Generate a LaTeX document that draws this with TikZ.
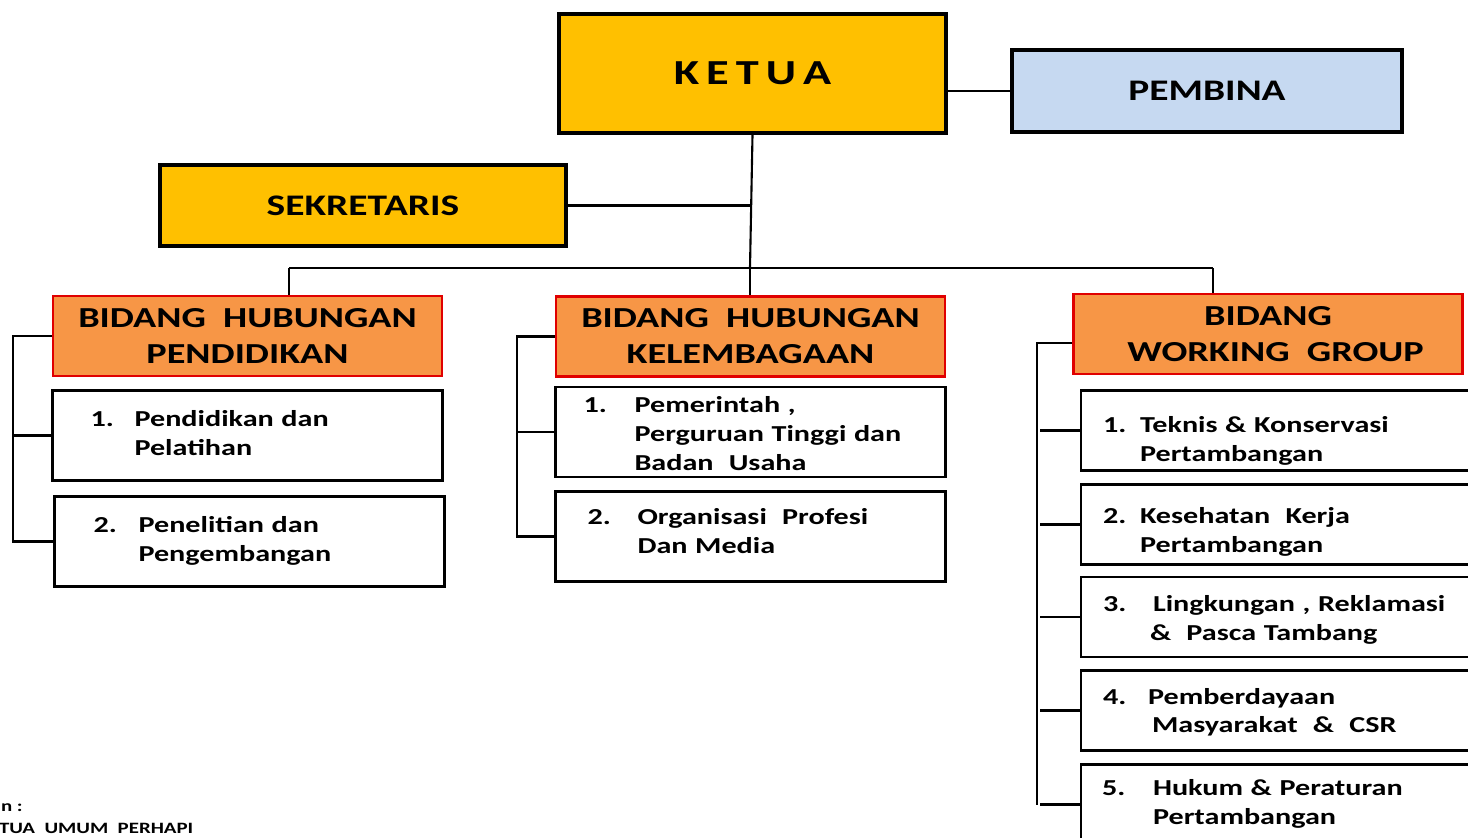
\documentclass[tikz,border=0pt]{standalone}
\usepackage{fontspec}
\setmainfont{Carlito}[FakeStretch=1.32]
\usetikzlibrary{positioning}
\definecolor{gold}{HTML}{FFC000}
\definecolor{paleblue}{HTML}{C6D9F1}
\definecolor{bidangfill}{HTML}{F79646}
\definecolor{bidangline}{HTML}{E00000}
% inset, number column, number, lines
\newcommand\entry[4]{\hspace*{#1}\begin{tabular}{@{}p{#2}@{}l@{}}#3 & #4\end{tabular}}
% move text down inside its box by half of #1
\newcommand\dropby[2]{\raisebox{0pt}[\height][\dimexpr\depth-#1\relax]{#2}}

\begin{document}
\begin{tikzpicture}[x=0.02cm, y=-0.02cm, line width=1.2pt, font=\bfseries,
    chief/.style={draw, line width=2.4pt, fill=gold, minimum width=7.74cm, minimum height=2.38cm,
      font=\bfseries\fontsize{20}{24}\selectfont},
    advisor/.style={draw, line width=1.9pt, fill=paleblue, minimum width=7.8cm, minimum height=1.64cm,
      font=\bfseries\fontsize{17}{20}\selectfont},
    secretary/.style={draw, line width=1.9pt, fill=gold, minimum width=8.12cm, minimum height=1.62cm,
      font=\bfseries\fontsize{17}{20}\selectfont},
    bidang/.style={draw=bidangline, line width=1.2pt, fill=bidangfill, minimum width=7.78cm, minimum height=1.6cm,
      align=center, font=\bfseries\fontsize{16.5}{20.5}\selectfont},
    unit/.style={draw, line width=1.6pt, minimum width=7.8cm, minimum height=1.8cm, inner xsep=0pt, inner ysep=0pt,
      text width=7.8cm, align=left, font=\bfseries\fontsize{13}{16.4}\selectfont},
    link/.style={draw, line width=1.6pt}
  ]
  \useasboundingbox (0,0) rectangle (1468,838);

  % top of the chart
  \node[chief] (ketua) at (752.5,73.5) {K\hspace{0.2em}E\hspace{0.2em}T\hspace{0.2em}U\hspace{0.2em}A};
  \node[advisor] (pembina) at (1207,91) {PEMBINA};
  \node[secretary] (sekretaris) at (363,205.5) {SEKRETARIS};

  % three fields
  \node[bidang] (bhp) at (247.5,336) {BIDANG\ \ HUBUNGAN\\PENDIDIKAN};
  \node[bidang] (bhk) at (750.5,336.5) {BIDANG\ \ HUBUNGAN\\KELEMBAGAAN};
  \node[bidang] (bwg) at (1268,334) {BIDANG\\\hspace*{0.3cm}WORKING\ \ GROUP};

  \node[unit, below=0.24cm of bhp] (p1) {\entry{0.76cm}{0.88cm}{1.}{Pendidikan dan\\ & Pelatihan}};
  \node[unit, below=0.26cm of p1, xshift=0.04cm] (p2) {\entry{0.78cm}{0.9cm}{2.}{Penelitian dan\\ & Pengembangan}};

  \node[unit, below=0.16cm of bhk] (k1) {\dropby{0.16cm}{\entry{0.56cm}{1.02cm}{1.}{Pemerintah ,\\ & Perguruan Tinggi dan\\ & Badan\ \ Usaha}}};
  \node[unit, below=0.24cm of k1] (k2) {\dropby{-0.14cm}{\entry{0.64cm}{1.0cm}{2.}{Organisasi\ \ Profesi\\ & Dan Media}}};

  \node[unit, minimum height=1.6cm, below=0.28cm of bwg, xshift=0.16cm] (w1) {\dropby{0.44cm}{\entry{0.44cm}{0.74cm}{1.}{Teknis \& Konservasi\\ & Pertambangan}}};
  \node[unit, minimum height=1.6cm, below=0.22cm of w1] (w2) {\dropby{0.32cm}{\entry{0.44cm}{0.74cm}{2.}{Kesehatan\ \ Kerja\\ & Pertambangan}}};
  \node[unit, minimum height=1.6cm, below=0.2cm of w2] (w3) {\dropby{0.12cm}{\entry{0.44cm}{1.0cm}{3.}{Lingkungan , Reklamasi\\ & \hspace*{-0.06cm}\&\ \ Pasca Tambang}}};
  \node[unit, minimum height=1.6cm, below=0.22cm of w3] (w4) {\dropby{0.08cm}{\entry{0.44cm}{0.9cm}{4.}{Pemberdayaan\\ & \hspace*{0.08cm}Masyarakat\ \ \&\ \ CSR}}};
  \node[unit, minimum height=1.6cm, below=0.22cm of w4] (w5) {\entry{0.42cm}{1.02cm}{5.}{Hukum \& Peraturan\\ & Pertambangan}};

  % cut-off note, bottom left
  \node[anchor=west, inner sep=0pt, font=\bfseries\fontsize{9}{11}\selectfont] (notea) at (0,808) {n :};
  \node[anchor=west, inner sep=0pt, font=\bfseries\fontsize{9}{11}\selectfont] (noteb) at (-2,828) {TUA\ \ UMUM\ \ PERHAPI};

  % connectors
  \coordinate (hub) at (750,268);
  \coordinate (busl) at (289,268);
  \coordinate (busr) at (1213,268);
  \draw (pembina.west) -- (pembina.west -| ketua.east);
  \draw (ketua.south) -- (hub);
  \draw (sekretaris.east) -- (sekretaris.east -| hub);
  \draw[link] (busl) -- (busr);
  \draw[link] (busl) -- (busl |- bhp.north);
  \draw[link] (hub) -- (hub |- bhk.north);
  \draw[link] (busr) -- (busr |- bwg.north);

  % brackets
  \coordinate (lspine) at (13,0);
  \coordinate (mspine) at (517,0);
  \coordinate (rspine) at (1037,0);
  \draw[link] (bhp.west) -- (bhp.west -| lspine) -- (p2.west -| lspine) -- (p2.west);
  \draw[link] (p1.west) -- (p1.west -| lspine);
  \draw[link] (bhk.west) -- (bhk.west -| mspine) -- (k2.west -| mspine) -- (k2.west);
  \draw[link] (k1.west) -- (k1.west -| mspine);
  \draw[link] ([yshift=-0.18cm]bwg.west) -- ([yshift=-0.18cm]bwg.west -| rspine) -- (w5.west -| rspine);
  \foreach \w in {w1,w2,w3,w4,w5}
    \draw[link] (\w.west) -- ([xshift=0.06cm]\w.west -| rspine);
\end{tikzpicture}
\end{document}
